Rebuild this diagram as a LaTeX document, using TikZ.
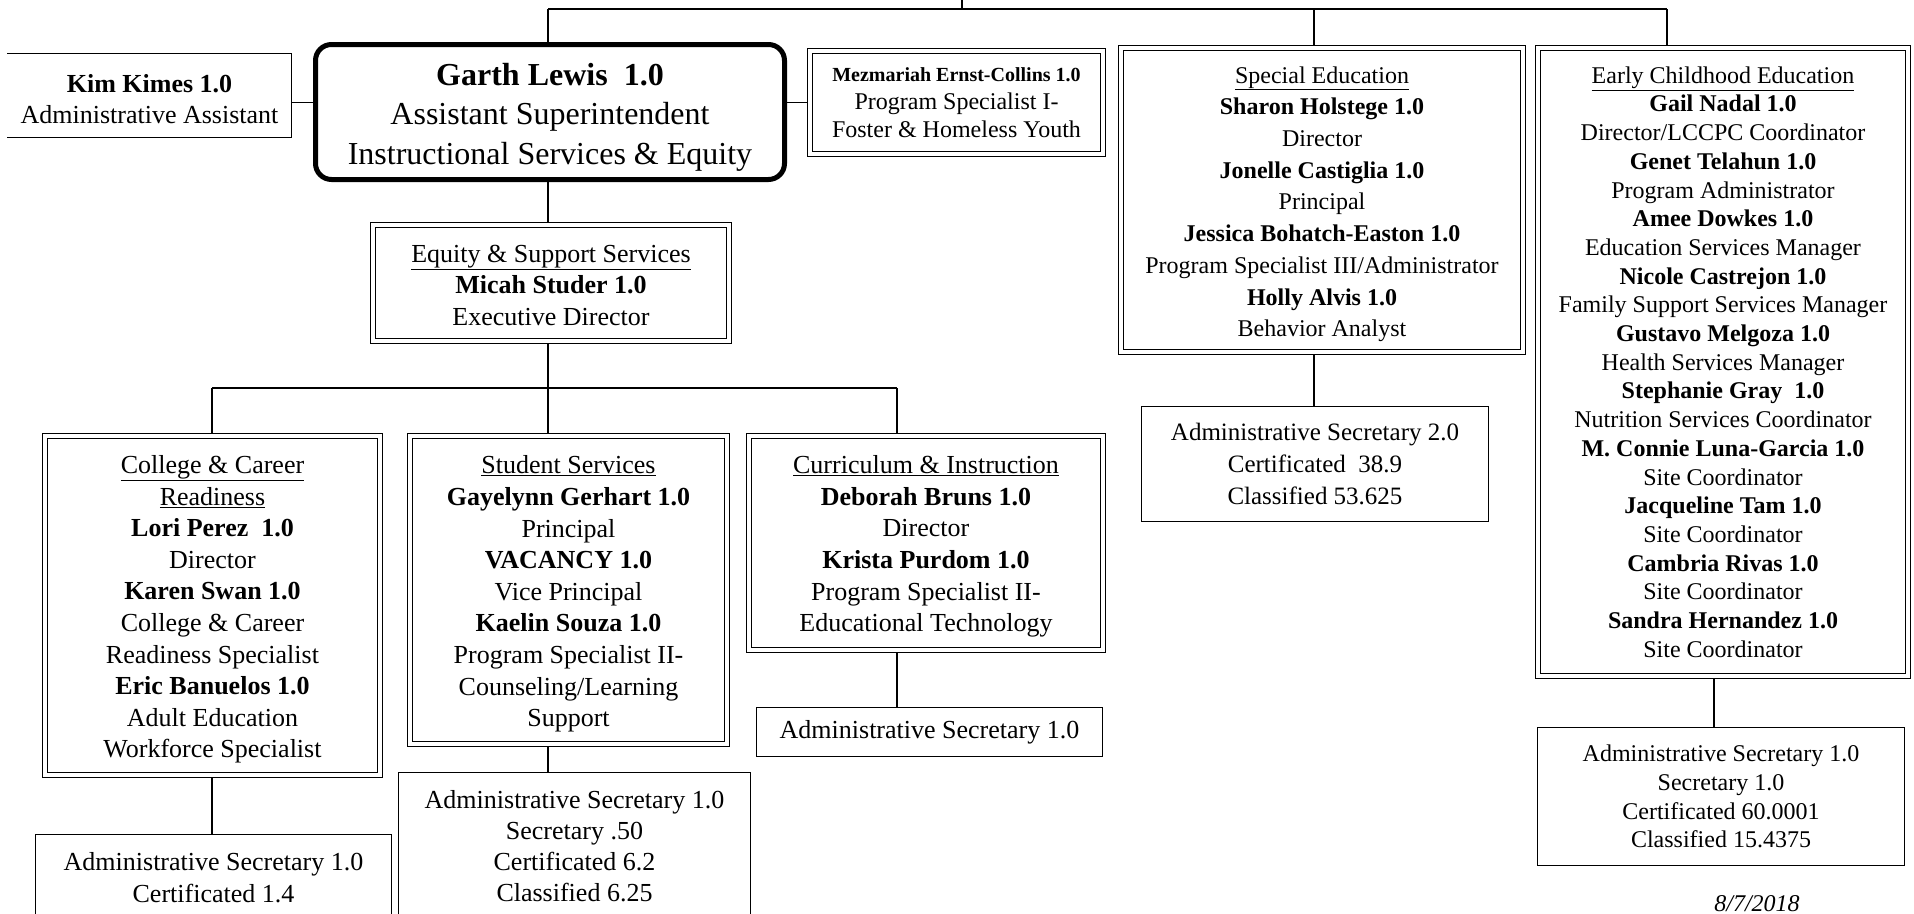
\documentclass[tikz,border=0pt]{standalone}
\usepackage{fontspec}
\setmainfont{Liberation Serif}
\usetikzlibrary{backgrounds}
% a zero-width strut that pads the first line of a box from above
\newcommand\toppad[1]{\rule{0pt}{#1pt}}
\begin{document}
\begin{tikzpicture}[x=1pt,y=-1pt]
\tikzset{
  wire/.style={line width=1.5pt},
  sbox/.style={draw, line width=1.4pt, inner sep=0pt, align=center},
  dbox/.style={draw, line width=1.4pt, double=white, double distance=3.5pt, inner sep=0pt, align=center},
  headbox/.style={draw, line width=5pt, rounded corners=16pt, inner sep=0pt, align=center},
  tA/.style={font=\fontsize{26}{31.6}\selectfont},
  tAs/.style={font=\fontsize{26}{30.8}\selectfont},
  tB/.style={font=\fontsize{24}{31.7}\selectfont},
  tC/.style={font=\fontsize{24}{28.7}\selectfont},
  tD/.style={font=\fontsize{25}{32}\selectfont},
  tM/.style={font=\fontsize{24}{28}\selectfont},
  tG/.style={font=\fontsize{32}{39.5}\selectfont},
}
\useasboundingbox (0,0) rectangle (1914,913);

% ---- top row ----
\node[inner sep=0pt, align=center, tA, minimum width=284pt, minimum height=84pt] (kim) at (149.5,95.5)
  {\toppad{25}\textbf{Kim Kimes 1.0}\\Administrative Assistant};
\draw[line width=1.4pt] (kim.north west) -- (kim.north east) -- (kim.south east) -- (kim.south west);

\node[headbox, tG, minimum width=469pt, minimum height=135pt] (garth) at (550,112)
  {\toppad{32}\textbf{Garth Lewis\ \ 1.0}\\Assistant Superintendent\\Instructional Services \& Equity};

\node[dbox, tM, minimum width=292.7pt, minimum height=102.7pt] (mez) at (956.5,102.5)
  {{\fontsize{20}{28}\selectfont\bfseries Mezmariah Ernst-Collins 1.0}\\Program Specialist I-\\Foster \& Homeless Youth};

\node[dbox, tB, minimum width=401.7pt, minimum height=303.7pt] (sped) at (1322,200)
  {\toppad{25}\underline{Special Education}\\\textbf{Sharon Holstege 1.0}\\Director\\\textbf{Jonelle Castiglia 1.0}\\Principal\\
   \textbf{Jessica Bohatch-Easton 1.0}\\Program Specialist III/Administrator\\\textbf{Holly Alvis 1.0}\\Behavior Analyst};

\node[sbox, tD, minimum width=347pt, minimum height=115pt] (spadm) at (1315,464)
  {Administrative Secretary 2.0\\Certificated\ \ 38.9\\Classified 53.625};

\node[dbox, tC, minimum width=369.7pt, minimum height=627.7pt] (ece) at (1723,362)
  {\underline{Early Childhood Education}\\\textbf{Gail Nadal 1.0}\\Director/LCCPC Coordinator\\
   \textbf{Genet Telahun 1.0}\\Program Administrator\\\textbf{Amee Dowkes 1.0}\\Education Services Manager\\
   \textbf{Nicole Castrejon 1.0}\\Family Support Services Manager\\\textbf{Gustavo Melgoza 1.0}\\Health Services Manager\\
   \textbf{Stephanie Gray\ \ 1.0}\\Nutrition Services Coordinator\\\textbf{M. Connie Luna-Garcia 1.0}\\Site Coordinator\\
   \textbf{Jacqueline Tam 1.0}\\Site Coordinator\\\textbf{Cambria Rivas 1.0}\\Site Coordinator\\
   \textbf{Sandra Hernandez 1.0}\\Site Coordinator};

\node[sbox, tC, minimum width=367pt, minimum height=138pt] (eceadm) at (1721,796.5)
  {Administrative Secretary 1.0\\Secretary 1.0\\Certificated 60.0001\\Classified 15.4375};

% ---- equity branch ----
\node[dbox, tA, minimum width=355.7pt, minimum height=115.7pt] (eq) at (551,283)
  {\toppad{22}\underline{Equity \& Support Services}\\\textbf{Micah Studer 1.0}\\Executive Director};

\node[dbox, tA, minimum width=334.7pt, minimum height=338.7pt] (ccr) at (212.5,605.5)
  {\toppad{26}\underline{College \& Career}\\\underline{Readiness}\\\textbf{Lori Perez\ \ 1.0}\\Director\\\textbf{Karen Swan 1.0}\\
   College \& Career\\Readiness Specialist\\\textbf{Eric Banuelos 1.0}\\Adult Education\\Workforce Specialist};

\node[sbox, tA, minimum width=356pt, minimum height=117pt] (ccradm) at (213.5,893)
  {Administrative Secretary 1.0\\Certificated 1.4\\\mbox{}};

\node[dbox, tA, minimum width=316.7pt, minimum height=307.7pt] (ss) at (568.5,590)
  {\toppad{26}\underline{Student Services}\\\textbf{Gayelynn Gerhart 1.0}\\Principal\\\textbf{VACANCY 1.0}\\Vice Principal\\
   \textbf{Kaelin Souza 1.0}\\Program Specialist II-\\Counseling/Learning\\Support};

\node[sbox, tAs, minimum width=352pt, minimum height=147pt] (ssadm) at (574.5,846)
  {Administrative Secretary 1.0\\Secretary .50\\Certificated 6.2\\Classified 6.25};

\node[dbox, tA, minimum width=353.7pt, minimum height=213.7pt] (ci) at (926,543)
  {\toppad{25}\underline{Curriculum \& Instruction}\\\textbf{Deborah Bruns 1.0}\\Director\\\textbf{Krista Purdom 1.0}\\
   Program Specialist II-\\Educational Technology};

\node[sbox, tA, minimum width=346pt, minimum height=49pt] (ciadm) at (929.5,732)
  {Administrative Secretary 1.0};

\node[anchor=base, font=\fontsize{24}{28}\selectfont\itshape] (date) at (1757,911) {8/7/2018};

% ---- connectors ----
\coordinate (up)   at (962,-3);
\coordinate (busG) at (548,9);
\coordinate (busM) at (962,9);
\coordinate (busS) at (1314,9);
\coordinate (busE) at (1667,9);
\coordinate (eceX) at (1714,0);
\coordinate (b2L)  at (212,388);
\coordinate (b2M)  at (548,388);
\coordinate (b2R)  at (897,388);

\begin{scope}[on background layer]
  \draw[wire] (busG) -- (busE);
  \draw[wire] (busM) -- (up);
  \draw[wire] (busG) -- (busG |- garth.north);
  \draw[wire] (busS) -- (busS |- sped.north);
  \draw[wire] (busE) -- (busE |- ece.north);
  \draw[wire] (kim.east |- mez.west) -- (garth.west |- mez.west);
  \draw[wire] (garth.east |- mez.west) -- (mez.west);
  \draw[wire] (busS |- sped.south) -- (busS |- spadm.north);
  \draw[wire] (eceX |- ece.south) -- (eceX |- eceadm.north);
  \draw[wire] (busG |- garth.south) -- (busG |- eq.north);
  \draw[wire] (b2M |- eq.south) -- (b2M);
  \draw[wire] (b2L) -- (b2R);
  \draw[wire] (b2L) -- (b2L |- ccr.north);
  \draw[wire] (b2M) -- (b2M |- ss.north);
  \draw[wire] (b2R) -- (b2R |- ci.north);
  \draw[wire] (b2L |- ccr.south) -- (b2L |- ccradm.north);
  \draw[wire] (b2M |- ss.south) -- (b2M |- ssadm.north);
  \draw[wire] (b2R |- ci.south) -- (b2R |- ciadm.north);
\end{scope}
\end{tikzpicture}
\end{document}
